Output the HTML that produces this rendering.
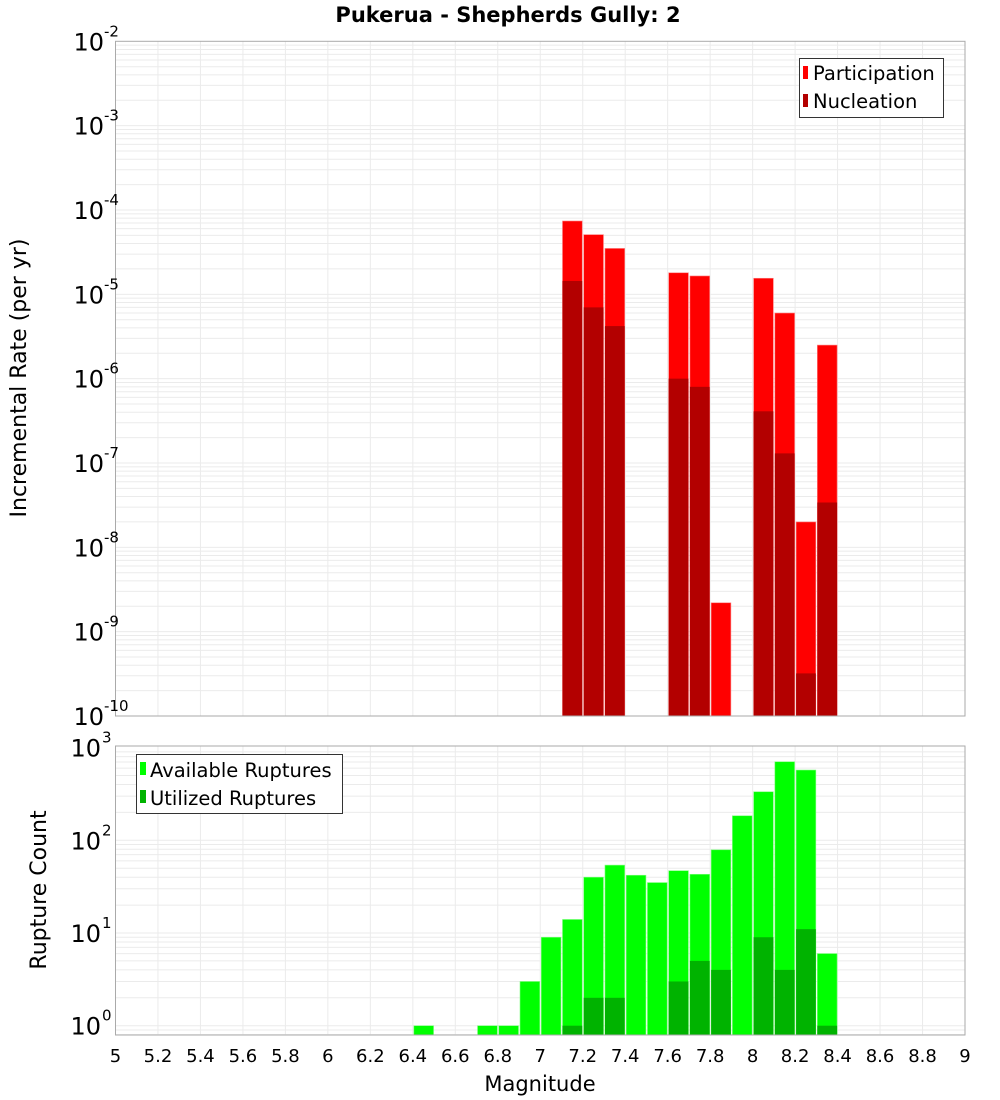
<!DOCTYPE html>
<html><head><meta charset="utf-8"><style>
body{margin:0;background:#fff;font-family:"DejaVu Sans","Liberation Sans",sans-serif}
svg text{font-family:"DejaVu Sans","Liberation Sans",sans-serif}
</style></head><body>
<svg id="c" width="1000" height="1100" style="position:absolute;left:0;top:0" xmlns="http://www.w3.org/2000/svg"></svg>
<script>
const mags=[6.4,6.7,6.8,6.9,7.0,7.1,7.2,7.3,7.4,7.5,7.6,7.7,7.8,7.9,8.0,8.1,8.2,8.3];
const partMags=[7.1,7.2,7.3,7.6,7.7,7.8,8.0,8.1,8.2,8.3];
const participation=[7.4e-5,5.1e-5,3.5e-5,1.8e-5,1.65e-5,2.2e-9,1.55e-5,6e-6,2e-8,2.5e-6];
const nucleation=[1.44e-5,7e-6,4.2e-6,1e-6,8e-7,0,4.1e-7,1.3e-7,3.2e-10,3.4e-8];
const available=[1,1,1,3,9,14,40,54,42,35,47,43,79,184,334,704,573,6];
const utilized=[0,0,0,0,0,1,2,2,0,0,3,5,4,0,9,4,11,1];
const xTicks=[5,5.2,5.4,5.6,5.8,6,6.2,6.4,6.6,6.8,7,7.2,7.4,7.6,7.8,8,8.2,8.4,8.6,8.8,9];
const topExps=[-2,-3,-4,-5,-6,-7,-8,-9,-10];
const botExps=[0,1,2,3];

(function(){
const NS="http://www.w3.org/2000/svg";
const svg=document.getElementById('c');
function mk(tag,attrs,parent,txt){const e=document.createElementNS(NS,tag);for(const k in attrs)e.setAttribute(k,attrs[k]);if(txt!==undefined)e.textContent=txt;(parent||svg).appendChild(e);return e;}
const L=115.5,R=965,T1=41.3,B1=716,T2=746,B2=1035;
const x=m=>L+(m-5)*(R-L)/4;
const y1=v=>T1+(-2-Math.log10(v))*(B1-T1)/8;
const y2=v=>1025.7-92.7*Math.log10(v);

function grid(tp,bt,yf,lo,hi){
  const g=mk('g',{});
  
  
  for(let e=lo;e<hi;e++)for(let k=1;k<10;k++){const v=k*Math.pow(10,e);const yy=yf(v);if(yy<tp-0.1||yy>bt+0.1)continue;
    mk('line',{x1:L,x2:R,y1:yy,y2:yy,stroke:'#ebebeb','stroke-width':1},g);}
  xTicks.forEach(t=>mk('line',{x1:x(t),x2:x(t),y1:tp,y2:bt,stroke:'#ebebeb','stroke-width':1},g));
}
grid(T1,B1,y1,-10,-2);
const topG=mk('g',{});


partMags.forEach((m,i)=>{
  const x0=x(m)+1,w=x(m+0.1)-x(m)-1.5;
  const p=mk('rect',{x:x0,y:y1(participation[i]),width:w,height:B1-y1(participation[i]),fill:'#ff0000',stroke:'#ff8080','stroke-width':0.6},topG);
  
  
  if(nucleation[i]>0){const n=mk('rect',{x:x0,y:y1(nucleation[i]),width:w,height:B1-y1(nucleation[i]),fill:'#b30000'},topG);
    
    }
});
mk('rect',{x:L,y:T1,width:R-L,height:B1-T1,fill:'none',stroke:'#aaa','stroke-width':1});
topExps.forEach(e=>{const t=mk('text',{x:104,y:y1(Math.pow(10,e))+9,'font-size':24,'text-anchor':'end'},svg,'10');
  
  
  mk('text',{x:104,y:y1(Math.pow(10,e))-5,'font-size':15,'text-anchor':'start'},svg,String(e));});
grid(T2,B2,y2,-1,3);
const botG=mk('g',{});


mags.forEach((m,i)=>{
  const x0=x(m)+1,w=x(m+0.1)-x(m)-1.5;
  const a=mk('rect',{x:x0,y:y2(available[i]),width:w,height:B2-y2(available[i]),fill:'#00ff00',stroke:'#80ff80','stroke-width':0.6},botG);
  
  
  if(utilized[i]>0){const u=mk('rect',{x:x0,y:y2(utilized[i]),width:w,height:B2-y2(utilized[i]),fill:'#00b300'},botG);
    
    }
});
mk('rect',{x:L,y:T2,width:R-L,height:B2-T2,fill:'none',stroke:'#aaa','stroke-width':1});
botExps.forEach(e=>{const yy=y2(Math.pow(10,e));const t=mk('text',{x:101,y:yy+9,'font-size':24,'text-anchor':'end'},svg,'10');
  
  
  mk('text',{x:102,y:yy-5,'font-size':15},svg,String(e));});
xTicks.forEach(t=>{const e=mk('text',{x:x(t),y:1062,'font-size':18,'text-anchor':'middle'},svg,String(t));
  
  });
})();
</script>
<svg style="position:absolute;left:0;top:0" width="1000" height="1100">
<text x="508" y="22" font-size="21" font-weight="bold" text-anchor="middle">Pukerua - Shepherds Gully: 2</text>
<text x="540" y="1091" font-size="21" text-anchor="middle">Magnitude</text>
<text transform="translate(26,378) rotate(-90)" font-size="22" text-anchor="middle">Incremental Rate (per yr)</text>
<text transform="translate(46,890) rotate(-90)" font-size="22" text-anchor="middle">Rupture Count</text>
<g>
<rect x="799.5" y="58.5" width="144" height="59" fill="#fff" stroke="#333"/>
<rect x="803" y="66" width="5" height="13" fill="#ff0000"/><text x="813" y="80" font-size="19.5">Participation</text>
<rect x="803" y="94" width="5" height="13" fill="#b30000"/><text x="813" y="108" font-size="19.5">Nucleation</text>
</g>
<g>
<rect x="136.5" y="754.5" width="206" height="59" fill="#fff" stroke="#333"/>
<rect x="140" y="762" width="6" height="13" fill="#00ff00"/><text x="150" y="777" font-size="19.5">Available Ruptures</text>
<rect x="140" y="790" width="6" height="13" fill="#00b300"/><text x="150" y="805" font-size="19.5">Utilized Ruptures</text>
</g>
</svg>
</body></html>
